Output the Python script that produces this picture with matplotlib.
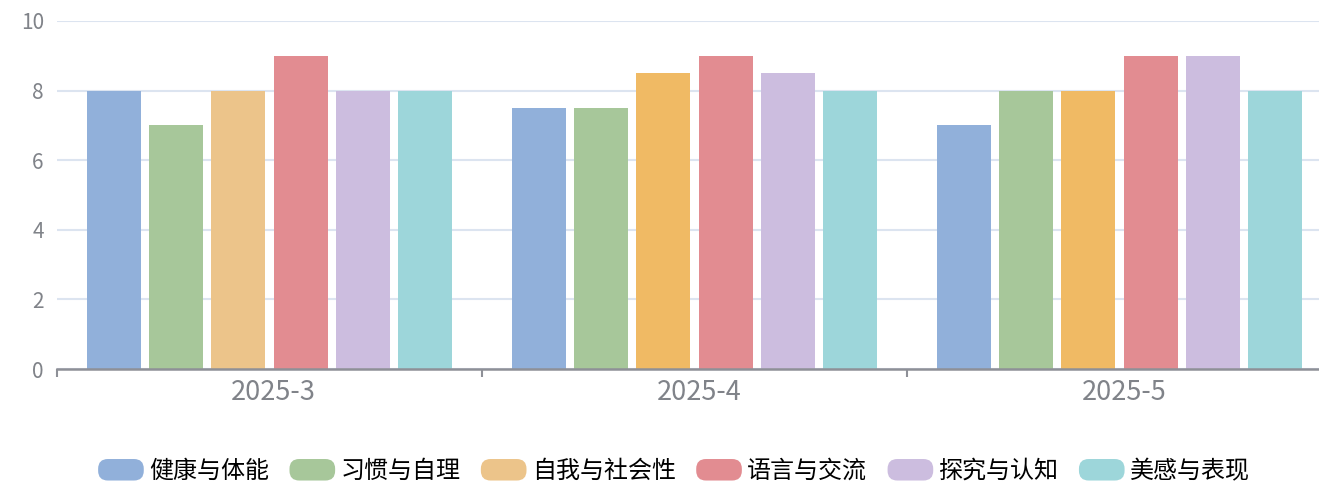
import matplotlib.pyplot as plt
import numpy as np
from matplotlib.patches import FancyBboxPatch
from matplotlib.legend_handler import HandlerPatch

plt.rcParams['font.family'] = ['Noto Sans CJK SC', 'DejaVu Sans']

# data
months = ['2025-3', '2025-4', '2025-5']
domains = ['健康与体能', '习惯与自理', '自我与社会性', '语言与交流', '探究与认知', '美感与表现']
health = [8, 7.5, 7]
habit = [7, 7.5, 8]
social = [8, 8.5, 8]
language = [9, 9, 9]
explore = [8, 8.5, 9]
art = [8, 8, 8]
series = [health, habit, social, language, explore, art]

colors = ['#91b0da', '#a7c79a', '#ecc48a', '#e28c91', '#ccbddf', '#9dd6da']
# the orange bars of the later months are drawn a bit stronger in the original
social_bar_colors = ['#ecc48a', '#f0ba64', '#f0ba64']


class RoundHandler(HandlerPatch):
    def create_artists(self, legend, orig_handle, xdescent, ydescent,
                       width, height, fontsize, trans):
        p = FancyBboxPatch((-xdescent, -ydescent), width, height,
                           boxstyle='round,pad=0,rounding_size=7',
                           facecolor=orig_handle.get_facecolor(),
                           edgecolor='none', transform=trans)
        return [p]


W, H = 1319, 483
fig = plt.figure(figsize=(W / 100, H / 100), dpi=100)
ax = fig.add_axes([57 / W, (H - 369) / H, (1332 - 57) / W, (369 - 21) / H])

x = np.arange(len(months))
step = 0.146
bar_w = 0.127
handles = []
for i, vals in enumerate(series):
    c = social_bar_colors if i == 2 else colors[i]
    ax.bar(x + (i - 2.5) * step, vals, width=bar_w, color=c, zorder=3,
           label=domains[i])
    handles.append(plt.Rectangle((0, 0), 1, 1, facecolor=colors[i]))

ax.set_xlim(-0.5, len(months) - 0.5)
ax.set_ylim(0, 10)
ax.set_yticks(range(0, 11, 2))
ax.yaxis.grid(True, color='#dce4f0', linewidth=1.5, zorder=0)
ax.tick_params(axis='y', length=0, pad=9.5, labelsize=15, labelcolor='#808389')

ax.set_xticks(x + 0.01)
ax.set_xticklabels(months)
ax.set_xticks(np.arange(len(months) + 1) - 0.5, minor=True)
ax.tick_params(axis='x', which='major', length=0, pad=7, labelsize=19.5,
               labelcolor='#808389')
ax.tick_params(axis='x', which='minor', length=6, width=1.5, color='#8e9097')

for s in ['top', 'right', 'left']:
    ax.spines[s].set_visible(False)
ax.spines['bottom'].set_color('#8e9097')
ax.spines['bottom'].set_linewidth(1.8)
ax.spines['bottom'].set_zorder(4)

fig.legend(handles, domains, loc='center', bbox_to_anchor=(674 / W, 1 - 471 / H),
           ncol=6, frameon=False, fontsize=17.3, handlelength=1.9,
           handleheight=1.0, handletextpad=0.22, columnspacing=0.85,
           handler_map={plt.Rectangle: RoundHandler()})

fig.savefig('out.png', dpi=100)
